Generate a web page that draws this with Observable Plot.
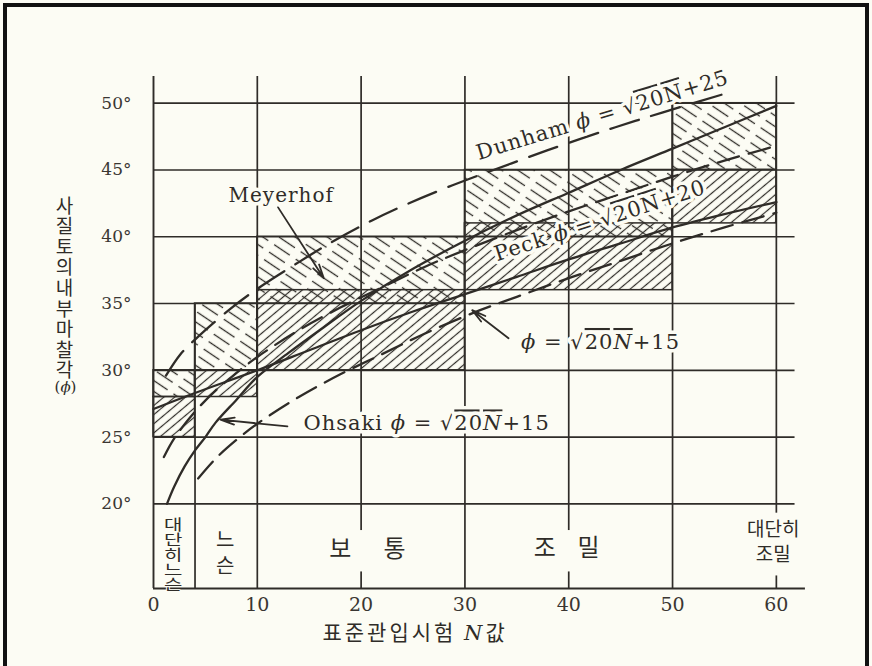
<!DOCTYPE html>
<html><head><meta charset="utf-8">
<script src="https://cdn.jsdelivr.net/npm/d3@7"></script>
<script src="https://cdn.jsdelivr.net/npm/@observablehq/plot@0.6"></script>
<style>
html,body{margin:0;padding:0;background:#fcfcf4;}
#wrap{position:relative;width:872px;height:666px;overflow:hidden;background:#fcfcf4;}
#frame{position:absolute;left:3px;top:3px;width:858px;height:720px;border:4px solid #111;pointer-events:none;}
#chart{position:absolute;left:0;top:0;}
</style></head>
<body><div id="wrap"><div id="chart"></div><div id="frame"></div></div>
<script>
const ink = "#2f2c28";
const paper = "#fcfcf4";

// ---- axes / grid ----
const xTicks = [0, 10, 20, 30, 40, 50, 60];
const yTicks = [20, 25, 30, 35, 40, 45, 50];
const vGrid = [10, 20, 30, 40, 50, 60];
const hGrid = [20, 25, 30, 35, 40, 45, 50];
const looseBound = [4];
// breaks in the vertical lines behind the class names [N, phi from, phi to]
const lineBreaks = [[20, 14.9, 18.0], [40, 14.9, 18.0], [60, 14.6, 19.3]];

// ---- hatched ranges [N from, N to, phi from, phi to] ----
const meyerhofRanges = [[0, 4, 28, 30], [4, 10, 30, 35], [10, 30, 35, 40], [30, 50, 40, 45], [50, 60, 45, 50]];
const peckRanges = [[0, 4, 25, 28], [4, 10, 28, 30], [10, 30, 30, 36], [30, 50, 36, 41], [50, 60, 41, 45]];

// ---- curves ----
const ohsakiN   = [1.3, 2, 3, 4, 5, 6, 8, 10, 13, 16, 20, 25, 30, 35, 40, 45, 50, 55, 60];
const ohsakiPhi = [20.0, 21.3, 22.8, 24.0, 25.0, 26.1, 27.8, 29.5, 31.3, 33.0, 35.2, 37.6, 39.7, 41.6, 43.3, 45.0, 46.6, 48.2, 49.8];

const peckN   = [0, 4, 10, 15, 20, 25, 30, 35, 40, 45, 50, 55, 60];
const peckPhi = [27.1, 28.3, 30.0, 31.5, 33.0, 34.4, 35.7, 37.0, 38.3, 39.5, 40.7, 41.7, 42.6];

const dunham25N   = [1.2, 2.6, 4, 7.4, 10, 14, 17.4, 21, 24, 28.3, 34.5, 39.5, 44.5, 49, 55];
const dunham25Phi = [29.6, 31.2, 32.3, 34.6, 36.1, 38.1, 39.7, 41.2, 42.3, 43.7, 45.5, 46.9, 48.2, 49.3, 50.7];

const dunham20N   = [1, 2, 4, 6, 8, 10, 14, 18, 22, 26, 30, 35, 40, 45, 50, 55, 60];
const dunham20Phi = [23.5, 24.9, 26.9, 28.5, 29.8, 31.0, 33.0, 34.7, 36.2, 37.7, 39.0, 40.5, 41.9, 43.2, 44.5, 45.7, 46.8];

const dunham15N   = [4.3, 6, 8, 10, 14, 18, 22, 26, 30.8, 35, 40, 45, 50, 55, 60];
const dunham15Phi = [21.9, 23.4, 24.8, 26.0, 28.0, 29.7, 31.2, 32.7, 34.3, 35.5, 36.9, 38.2, 39.5, 40.7, 41.8];

// ---- annotations ----
const arrowFrom = [[12.0, 42.2], [12.9, 25.8], [34.2, 32.4]];
const arrowTo   = [[16.4, 36.9], [6.45, 26.3], [30.7, 34.5]];

const densityText = ["대단히느슨", "느슨", "보      통", "조    밀", "대단히\n조밀"];
const densityN = [1.9, 6.9, 20.6, 39.8, 59.7];
const densityPhi = [16.6, 16.6, 16.6, 16.65, 17.25];

const yTitle = "사질토의내부마찰각";
const yTitleSym = "(ϕ)";
const xTitle = "표준관입시험 N값";

const toRect = r => ({n1: r[0], n2: r[1], p1: r[2], p2: r[3]});
const toPts = (ns, ps) => ns.map((n, i) => ({n, p: ps[i]}));
const serif = "DejaVu Serif";
const kr = "Noto Sans CJK KR";
const halo = {stroke: paper, strokeWidth: 7, fill: ink};
const lbl = {ariaDescription: "lbl", ...halo};

const PMIN = 13.66, PMAX = 52;

const chart = Plot.plot({
  width: 872, height: 666,
  marginLeft: 153, marginRight: 65, marginTop: 76, marginBottom: 78,
  x: {domain: [0, 63]},
  y: {domain: [PMIN, PMAX]},
  style: {background: "transparent", color: ink, fontFamily: serif},
  marks: [
    Plot.rect(peckRanges.map(toRect), {x1: "n1", x2: "n2", y1: "p1", y2: "p2", fill: "url(#hatchP)"}),
    Plot.rect(meyerhofRanges.map(toRect), {x1: "n1", x2: "n2", y1: "p1", y2: "p2", fill: "url(#hatchM)"}),
    Plot.ruleX(vGrid, {y1: PMIN, y2: PMAX, stroke: ink, strokeWidth: 1.7}),
    Plot.ruleX(looseBound, {y1: PMIN, y2: 35, stroke: ink, strokeWidth: 1.7}),
    Plot.ruleY(hGrid, {x1: 0, x2: 61.8, stroke: ink, strokeWidth: 1.7}),
    Plot.ruleX(lineBreaks, {x: d => d[0], y1: d => d[1], y2: d => d[2], stroke: paper, strokeWidth: 5}),
    Plot.ruleX([0], {y1: PMIN, y2: PMAX, stroke: ink, strokeWidth: 1.9}),
    Plot.ruleY([PMIN], {x1: 0, x2: 62.8, stroke: ink, strokeWidth: 1.9}),
    Plot.rect(peckRanges.map(toRect), {x1: "n1", x2: "n2", y1: "p1", y2: "p2", fill: "none", stroke: ink, strokeWidth: 1.5}),
    Plot.rect(meyerhofRanges.map(toRect), {x1: "n1", x2: "n2", y1: "p1", y2: "p2", fill: "none", stroke: ink, strokeWidth: 1.5}),
    Plot.line(toPts(ohsakiN, ohsakiPhi), {x: "n", y: "p", stroke: ink, strokeWidth: 2.3, curve: "catmull-rom"}),
    Plot.line(toPts(peckN, peckPhi), {x: "n", y: "p", stroke: ink, strokeWidth: 2.3, curve: "catmull-rom"}),
    Plot.line(toPts(dunham25N, dunham25Phi), {x: "n", y: "p", stroke: ink, strokeWidth: 2.3, strokeDasharray: "30 13", curve: "catmull-rom"}),
    Plot.line(toPts(dunham20N, dunham20Phi), {x: "n", y: "p", stroke: ink, strokeWidth: 2.3, strokeDasharray: "22 10", curve: "catmull-rom"}),
    Plot.line(toPts(dunham15N, dunham15Phi), {x: "n", y: "p", stroke: ink, strokeWidth: 2.3, strokeDasharray: "22 10", curve: "catmull-rom"}),
    // labels
    Plot.text(["Meyerhof"], {x: 12.3, y: 43.1, text: d => d, fontSize: 20, ...lbl}),
    Plot.text(["Ohsaki ϕ = √20N+15"], {x: 14.45, y: 26.0, text: d => d, textAnchor: "start", fontSize: 21, ...lbl, ariaDescription: "lblN"}),
    Plot.text(["ϕ = √20N+15"], {x: 35.4, y: 32.1, text: d => d, textAnchor: "start", fontSize: 21, ...lbl, ariaDescription: "lblN"}),
    Plot.text(["Dunham ϕ = √20N+25"], {x: 43.25, y: 49.1, text: d => d, rotate: -17, fontSize: 21, ...lbl}),
    Plot.text(["Peck ϕ = √20N+20"], {x: 43.0, y: 41.2, text: d => d, rotate: -18, fontSize: 21, ...lbl}),
    Plot.arrow(arrowFrom.map((a, i) => ({a, b: arrowTo[i]})), {x1: d => d.a[0], y1: d => d.a[1], x2: d => d.b[0], y2: d => d.b[1], stroke: ink, strokeWidth: 1.8, headLength: 12, headAngle: 28}),
    // density classes
    Plot.text([densityText[0]], {x: densityN[0], y: densityPhi[0], text: d => d, fontFamily: kr, fontSize: 20, ...halo, strokeWidth: 2, ariaDescription: "vsquash"}),
    Plot.text([densityText[1]], {x: densityN[1], y: densityPhi[1], text: d => d, fontFamily: kr, fontSize: 20, ...halo, ariaDescription: "vloose"}),
    Plot.text([densityText[2]], {x: densityN[2], y: densityPhi[2], text: d => d, fontFamily: kr, fontSize: 24, ...halo}),
    Plot.text([densityText[3]], {x: densityN[3], y: densityPhi[3], text: d => d, fontFamily: kr, fontSize: 24, ...halo}),
    Plot.text([densityText[4]], {x: densityN[4], y: densityPhi[4], text: d => d, fontFamily: kr, fontSize: 19, lineHeight: 1.32, ...halo}),
    // axis titles
    Plot.text([yTitle], {frameAnchor: "left", textAnchor: "middle", dx: -89, dy: -50, text: d => d, fontFamily: kr, fontSize: 19, fill: ink, ariaDescription: "vtitle"}),
    Plot.text([yTitleSym], {frameAnchor: "left", textAnchor: "middle", dx: -88, dy: 55, text: d => d, fontSize: 15, fill: ink, ariaDescription: "sym"}),
    Plot.text([xTitle], {x: 25.2, frameAnchor: "bottom", dy: 51, text: d => d, fontFamily: kr, fontSize: 21, fill: ink, ariaDescription: "xtitle"}),
    Plot.axisY(yTicks, {tickSize: 0, tickPadding: 22, tickFormat: d => d + "°", fontSize: 17, fill: "#3a3632"}),
    Plot.axisX(xTicks, {tickSize: 0, tickPadding: 9, fontSize: 19, fill: "#3a3632"})
  ]
});

const svg = d3.select(chart);
const defs = svg.insert("defs", ":first-child");
const pm = defs.append("pattern").attr("id", "hatchM").attr("patternUnits", "userSpaceOnUse")
  .attr("width", 26).attr("height", 9).attr("patternTransform", "rotate(34)");
pm.append("line").attr("x1", 0).attr("y1", 4.5).attr("x2", 26).attr("y2", 4.5)
  .attr("stroke", ink).attr("stroke-width", 1.3).attr("stroke-dasharray", "19 7");
const pp = defs.append("pattern").attr("id", "hatchP").attr("patternUnits", "userSpaceOnUse")
  .attr("width", 10).attr("height", 7).attr("patternTransform", "rotate(-40)");
pp.append("line").attr("x1", 0).attr("y1", 3.5).attr("x2", 10).attr("y2", 3.5)
  .attr("stroke", ink).attr("stroke-width", 1.2);

// typographic touches: italic ϕ / N, overline over the radicand, letter spacing
function decorate(el, italicN) {
  const s = el.textContent;
  el.textContent = "";
  const sel = d3.select(el);
  s.split(/(ϕ|20N)/).forEach(tok => {
    if (!tok) return;
    if (tok === "ϕ") sel.append("tspan").attr("font-style", "italic").text(tok);
    else if (tok === "20N") {
      const t = sel.append("tspan").style("text-decoration", "overline");
      t.append("tspan").text("20");
      t.append("tspan").attr("font-style", italicN ? "italic" : null).text("N");
    } else sel.append("tspan").text(tok);
  });
}
svg.selectAll("g[aria-description='lbl'] text").each(function() { decorate(this, false); }).attr("letter-spacing", 1);
svg.selectAll("g[aria-description='lblN'] text").each(function() { decorate(this, true); }).attr("letter-spacing", 1);
svg.selectAll("g[aria-description='sym'] text").each(function() { decorate(this, true); });
svg.selectAll("g[aria-description='xtitle'] text").attr("letter-spacing", 3).each(function() {
  const s = this.textContent; this.textContent = "";
  const sel = d3.select(this);
  s.split(/(N)/).forEach(tok => {
    if (!tok) return;
    const t = sel.append("tspan").text(tok);
    if (tok === "N") t.attr("font-family", serif).attr("font-style", "italic");
  });
});
// vertical (top-to-bottom) Korean text
svg.selectAll("g[aria-description='vtitle'] text").each(function() {
  this.removeAttribute("dy");
  this.style.writingMode = "vertical-rl";
  this.setAttribute("letter-spacing", 1.6);
});
svg.selectAll("g[aria-description='vloose'] text").each(function() {
  this.removeAttribute("dy");
  this.style.writingMode = "vertical-rl";
  this.setAttribute("letter-spacing", 6);
});
// the "very loose" label is printed vertically and squashed to fit its narrow column
svg.selectAll("g[aria-description='vsquash'] text").each(function() {
  this.removeAttribute("dy");
  this.style.writingMode = "vertical-rl";
  const tr = this.getAttribute("transform") || "";
  this.setAttribute("transform", tr + " scale(1,0.75)");
});

document.getElementById("chart").appendChild(chart);
</script>
</body></html>
